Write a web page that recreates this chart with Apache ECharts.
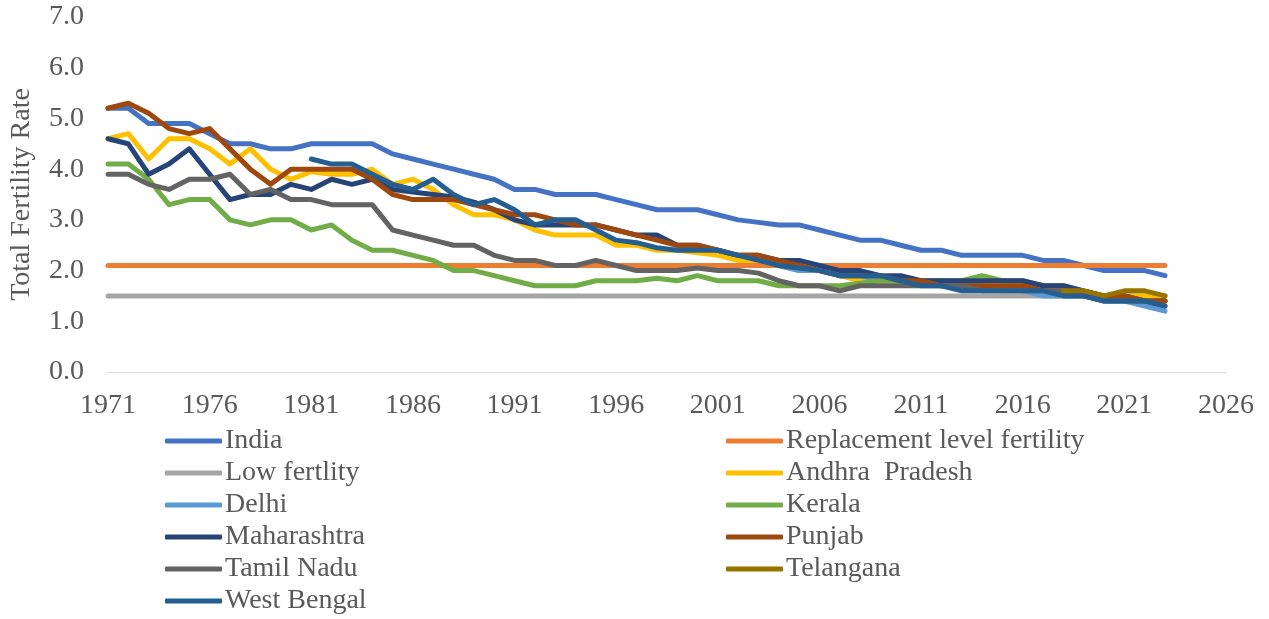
<!DOCTYPE html>
<html>
<head>
<meta charset="utf-8">
<script src="https://cdn.jsdelivr.net/npm/echarts@6/dist/echarts.min.js"></script>
<style>html,body{margin:0;padding:0;background:#fff;}#c{width:1269px;height:619px;}</style>
</head>
<body>
<div id="c"></div>
<script>
// ---- data ----
const xTicks = [1971, 1976, 1981, 1986, 1991, 1996, 2001, 2006, 2011, 2016, 2021, 2026];
const yTicks = [0, 1, 2, 3, 4, 5, 6, 7];

const seriesNames = ["India", "Replacement level fertility", "Low fertlity", "Andhra  Pradesh", "Delhi",
  "Kerala", "Maharashtra", "Punjab", "Tamil Nadu", "Telangana", "West Bengal"];

const indiaStart = 1971;
const india = [5.2,5.2,4.9,4.9,4.9,4.7,4.5,4.5,4.4,4.4,
  4.5,4.5,4.5,4.5,4.3,4.2,4.1,4.0,3.9,3.8,
  3.6,3.6,3.5,3.5,3.5,3.4,3.3,3.2,3.2,3.2,
  3.1,3.0,2.95,2.9,2.9,2.8,2.7,2.6,2.6,2.5,
  2.4,2.4,2.3,2.3,2.3,2.3,2.2,2.2,2.1,2.0,2.0,2.0,1.9];

const replacementStart = 1971;
const replacement = [2.1,2.1,2.1,2.1,2.1,2.1,2.1,2.1,2.1,2.1,
  2.1,2.1,2.1,2.1,2.1,2.1,2.1,2.1,2.1,2.1,
  2.1,2.1,2.1,2.1,2.1,2.1,2.1,2.1,2.1,2.1,
  2.1,2.1,2.1,2.1,2.1,2.1,2.1,2.1,2.1,2.1,
  2.1,2.1,2.1,2.1,2.1,2.1,2.1,2.1,2.1,2.1,2.1,2.1,2.1];

const lowStart = 1971;
const low = [1.5,1.5,1.5,1.5,1.5,1.5,1.5,1.5,1.5,1.5,
  1.5,1.5,1.5,1.5,1.5,1.5,1.5,1.5,1.5,1.5,
  1.5,1.5,1.5,1.5,1.5,1.5,1.5,1.5,1.5,1.5,
  1.5,1.5,1.5,1.5,1.5,1.5,1.5,1.5,1.5,1.5,
  1.5,1.5,1.5,1.5,1.5,1.5,1.5,1.5,1.5,1.5,1.5,1.5,1.5];

const apStart = 1971;
const andhra = [4.6,4.7,4.2,4.6,4.6,4.4,4.1,4.4,4.0,3.8,
  3.95,3.9,3.9,4.0,3.7,3.8,3.6,3.3,3.1,3.1,
  3.0,2.8,2.7,2.7,2.7,2.5,2.5,2.4,2.4,2.35,
  2.3,2.2,2.2,2.1,2.0,2.0,1.9,1.8,1.8,1.8,
  1.8,1.8,1.7,1.7,1.7,1.7,1.6,1.6,1.5,1.5,1.5,1.5,1.5];

const delhiStart = 2004;
const delhi = [2.1,2.0,2.0,1.9,1.9,1.8,1.8,1.8,1.7,1.7,1.7,1.6,1.6,1.5,1.5,1.5,1.4,1.4,1.3,1.2];

const keralaStart = 1971;
const kerala = [4.1,4.1,3.8,3.3,3.4,3.4,3.0,2.9,3.0,3.0,
  2.8,2.9,2.6,2.4,2.4,2.3,2.2,2.0,2.0,1.9,
  1.8,1.7,1.7,1.7,1.8,1.8,1.8,1.85,1.8,1.9,
  1.8,1.8,1.8,1.7,1.7,1.7,1.7,1.75,1.8,1.8,
  1.8,1.8,1.8,1.9,1.8,1.8,1.7,1.7,1.6,1.5,1.5,1.4,1.4];

const mhStart = 1971;
const maharashtra = [4.6,4.5,3.9,4.1,4.4,3.9,3.4,3.5,3.5,3.7,
  3.6,3.8,3.7,3.8,3.6,3.55,3.5,3.45,3.35,3.2,
  3.0,2.9,2.9,2.9,2.9,2.8,2.7,2.7,2.5,2.5,
  2.4,2.3,2.3,2.2,2.2,2.1,2.0,2.0,1.9,1.9,
  1.8,1.8,1.8,1.8,1.8,1.8,1.7,1.7,1.6,1.5,1.5,1.4,1.4];

const punjabStart = 1971;
const punjab = [5.2,5.3,5.1,4.8,4.7,4.8,4.4,4.0,3.7,4.0,
  4.0,4.0,4.0,3.8,3.5,3.4,3.4,3.4,3.3,3.2,
  3.1,3.1,3.0,2.9,2.9,2.8,2.7,2.6,2.5,2.5,
  2.4,2.3,2.3,2.2,2.1,2.0,1.9,1.9,1.9,1.8,
  1.8,1.7,1.7,1.7,1.7,1.7,1.6,1.6,1.5,1.5,1.5,1.4,1.4];

const tnStart = 1971;
const tamilNadu = [3.9,3.9,3.7,3.6,3.8,3.8,3.9,3.5,3.6,3.4,
  3.4,3.3,3.3,3.3,2.8,2.7,2.6,2.5,2.5,2.3,
  2.2,2.2,2.1,2.1,2.2,2.1,2.0,2.0,2.0,2.05,
  2.0,2.0,1.95,1.8,1.7,1.7,1.6,1.7,1.7,1.7,
  1.7,1.7,1.7,1.6,1.6,1.6,1.6,1.6,1.5,1.4,1.4,1.4,1.3];

const telanganaStart = 2018;
const telangana = [1.6,1.6,1.5,1.6,1.6,1.5];

const wbStart = 1981;
const westBengal = [4.2,4.1,4.1,3.9,3.7,3.6,3.8,3.5,3.3,3.4,
  3.2,2.9,3.0,3.0,2.8,2.6,2.55,2.45,2.4,2.4,
  2.4,2.3,2.2,2.1,2.05,2.0,1.9,1.9,1.9,1.8,
  1.7,1.7,1.6,1.6,1.6,1.6,1.6,1.5,1.5,1.4,1.4,1.4,1.3];

// ---- build ----
const seriesDefs = [
  [india, indiaStart, '#4472C4'],
  [replacement, replacementStart, '#ED7D31'],
  [low, lowStart, '#A5A5A5'],
  [andhra, apStart, '#FFC000'],
  [delhi, delhiStart, '#5B9BD5'],
  [kerala, keralaStart, '#70AD47'],
  [maharashtra, mhStart, '#264478'],
  [punjab, punjabStart, '#9E480E'],
  [tamilNadu, tnStart, '#636363'],
  [telangana, telanganaStart, '#997300'],
  [westBengal, wbStart, '#255E91']
];

const FONT = '"Liberation Serif", "DejaVu Serif", serif';
const TXT = '#595959';
const FS = 28;

const series = seriesDefs.map((d, i) => ({
  name: seriesNames[i],
  type: 'line',
  data: d[0].map((v, k) => [d[1] + k, v]),
  showSymbol: false,
  symbol: 'none',
  color: d[2],
  lineStyle: { width: 5, color: d[2], cap: 'round', join: 'round' },
  itemStyle: { color: d[2] },
  emphasis: { disabled: true },
  animation: false
}));

const leftNames = [0, 2, 4, 6, 8, 10].map(i => seriesNames[i]);
const rightNames = [1, 3, 5, 7, 9].map(i => seriesNames[i]);

const legendCommon = {
  orient: 'vertical',
  top: 425,
  height: 194,
  padding: 0,
  icon: 'roundRect',
  itemWidth: 57,
  itemHeight: 5,
  itemGap: 0,
  textStyle: { fontFamily: FONT, fontSize: FS, color: TXT, lineHeight: 32, padding: [0, 0, 0, -2] },
  selectedMode: false
};

const chart = echarts.init(document.getElementById('c'), null, { renderer: 'canvas' });
chart.setOption({
  animation: false,
  backgroundColor: '#fff',
  grid: { left: 103, right: 43, top: 17, bottom: 247, containLabel: false },
  legend: [
    Object.assign({}, legendCommon, { left: 165, data: leftNames }),
    Object.assign({}, legendCommon, { left: 726, data: rightNames })
  ],
  xAxis: {
    type: 'value',
    min: xTicks[0],
    max: xTicks[xTicks.length - 1],
    interval: 5,
    axisLine: { show: true, lineStyle: { color: '#D9D9D9', width: 1 } },
    axisTick: { show: false },
    splitLine: { show: false },
    axisLabel: { fontFamily: FONT, fontSize: FS, color: TXT, margin: 20, formatter: v => String(v) }
  },
  yAxis: {
    type: 'value',
    min: yTicks[0],
    max: yTicks[yTicks.length - 1],
    interval: 1,
    name: 'Total Fertility Rate',
    nameLocation: 'middle',
    nameGap: 72,
    nameTextStyle: { fontFamily: FONT, fontSize: FS, color: TXT },
    axisLine: { show: false },
    axisTick: { show: false },
    splitLine: { show: false },
    axisLabel: { fontFamily: FONT, fontSize: FS, color: TXT, margin: 24, formatter: v => v.toFixed(1) }
  },
  series: series
});
</script>
</body>
</html>
